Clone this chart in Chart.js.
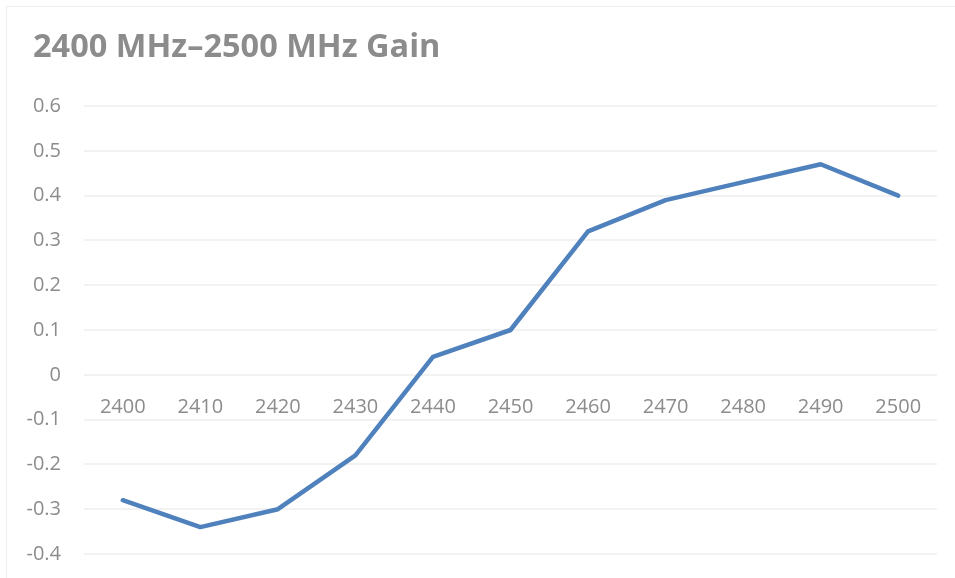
<!DOCTYPE html>
<html>
<head>
<meta charset="utf-8">
<script src="https://cdn.jsdelivr.net/npm/chart.js@4/dist/chart.umd.min.js"></script>
<style>
  html, body { margin: 0; padding: 0; background: #ffffff; }
  #wrap { position: relative; width: 955px; height: 578px; }
  #frame { position: absolute; left: 6px; top: 6px; width: 960px; height: 600px;
           border-left: 1px solid #efefef; border-top: 1px solid #efefef; box-sizing: border-box; }
  canvas { position: absolute; left: 0; top: 0; }
</style>
</head>
<body>
<div id="wrap">
  <div id="frame"></div>
  <canvas id="c" width="955" height="578"></canvas>
</div>
<script>
const titleText = '2400 MHz\u20132500 MHz Gain';
const frequencies = ['2400', '2410', '2420', '2430', '2440', '2450', '2460', '2470', '2480', '2490', '2500'];
const gainValues = [-0.28, -0.34, -0.30, -0.18, 0.04, 0.10, 0.32, 0.39, 0.43, 0.47, 0.40];
const yMin = -0.4;
const yMax = 0.6;
const yStep = 0.1;

const textGray = '#8c8c8c';
const gridGray = '#f2f2f2';
const lineBlue = '#4f81bd';

const titlePlugin = {
  id: 'leftTitle',
  afterDraw(chart) {
    const ctx = chart.ctx;
    ctx.save();
    ctx.font = 'bold 32.5px "Open Sans", sans-serif';
    ctx.fillStyle = textGray;
    ctx.textAlign = 'left';
    ctx.textBaseline = 'alphabetic';
    ctx.fillText(titleText, 33, 57);
    ctx.restore();
  }
};

new Chart(document.getElementById('c'), {
  type: 'line',
  data: {
    labels: frequencies,
    datasets: [{
      data: gainValues,
      borderColor: lineBlue,
      backgroundColor: lineBlue,
      borderWidth: 4.5,
      pointRadius: 0,
      pointHoverRadius: 0,
      tension: 0,
      borderCapStyle: 'round',
      borderJoinStyle: 'round',
      fill: false
    }]
  },
  plugins: [titlePlugin],
  options: {
    responsive: false,
    animation: false,
    layout: { padding: { left: 18, right: 18, top: 106, bottom: 24 } },
    plugins: {
      legend: { display: false },
      tooltip: { enabled: false },
      title: { display: false }
    },
    scales: {
      x: {
        position: { y: 0 },
        offset: true,
        grid: { display: false, drawTicks: false },
        border: { display: false },
        afterFit: (scale) => { scale.height = 0; },
        ticks: {
          color: textGray,
          font: { family: '"Open Sans", sans-serif', size: 20 },
          padding: 20,
          maxRotation: 0,
          autoSkip: false
        }
      },
      y: {
        min: yMin,
        max: yMax,
        grid: { color: gridGray, lineWidth: 2, drawTicks: false },
        border: { display: false },
        afterFit: (scale) => {
          scale.width = 66;
          scale.paddingTop = 0;
          scale.paddingBottom = 0;
        },
        ticks: {
          stepSize: yStep,
          color: textGray,
          font: { family: '"Open Sans", sans-serif', size: 20 },
          padding: 23,
          callback: (v) => {
            const r = Math.round(v * 10) / 10;
            return r === 0 ? '0' : String(r);
          }
        }
      }
    }
  }
});
</script>
</body>
</html>
